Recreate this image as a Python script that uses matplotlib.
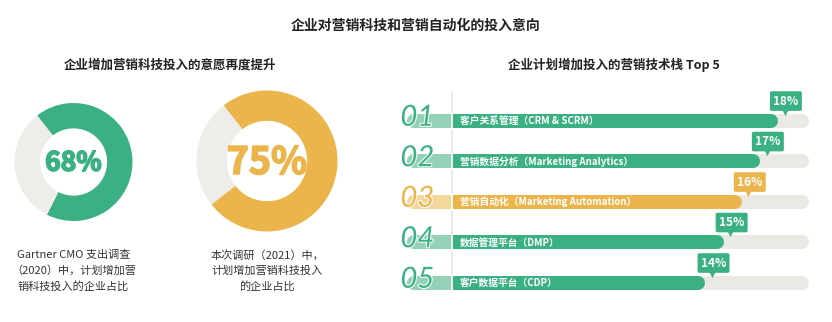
import matplotlib
matplotlib.use("Agg")
import matplotlib.pyplot as plt
import matplotlib.patheffects as pe

plt.rcParams['font.family'] = ['Noto Sans CJK SC', 'DejaVu Sans']

# data
donut_values = [68, 75]
donut_captions = ["Gartner CMO 支出调查\n（2020）中，计划增加营\n销科技投入的企业占比",
                  "本次调研（2021）中，\n计划增加营销科技投入\n的企业占比"]
tech_ranks = ["01", "02", "03", "04", "05"]
tech_names = ["客户关系管理（CRM & SCRM）", "营销数据分析（Marketing Analytics）",
              "营销自动化（Marketing Automation）", "数据管理平台（DMP）", "客户数据平台（CDP）"]
tech_values = [18, 17, 16, 15, 14]
track_max = 19.7

GREEN = "#3bb083"
YELLOW = "#ecb54c"
LIGHT_GREEN = "#93d2b7"
LIGHT_YELLOW = "#f4d79b"
TRACK = "#eae9e4"
RING_BG = "#eeede9"

W, H = 832, 322
fig = plt.figure(figsize=(W / 100, H / 100), dpi=100)


def px_axes(left, top, width, height):
    return fig.add_axes([left / W, (H - top - height) / H, width / W, height / H])


fig.text(416 / W, 1 - 26 / H, "企业对营销科技和营销自动化的投入意向", ha="center", va="center",
         fontsize=10, fontweight="bold", color="#222222")
fig.text(170 / W, 1 - 65 / H, "企业增加营销科技投入的意愿再度提升", ha="center", va="center",
         fontsize=9, fontweight="bold", color="#222222")
fig.text(614 / W, 1 - 65 / H, "企业计划增加投入的营销技术栈 Top 5", ha="center", va="center",
         fontsize=9, fontweight="bold", color="#222222")

# donuts
donut_specs = [(73.5, 162, 59, GREEN, 128, 19), (267, 161, 70.5, YELLOW, 128, 27)]
for val, cap, (cx, cy, r, col, start, fs) in zip(donut_values, donut_captions, donut_specs):
    ax = px_axes(cx - r, cy - r, 2 * r, 2 * r)
    ax.pie([val, 100 - val], colors=[col, RING_BG], startangle=start, counterclock=False,
           wedgeprops=dict(width=0.43, edgecolor="none"))
    ax.set_xlim(-1, 1)
    ax.set_ylim(-1, 1)
    ax.set_aspect("equal")
    pt = ax.text(0, -0.02, f"{val}%", ha="center", va="center", fontsize=fs,
                 fontweight="heavy", color=col)
    pt.set_path_effects([pe.withStroke(linewidth=1.2, foreground=col)])
    fig.text(cx / W, 1 - 250 / H, cap, ha="center", va="top", fontsize=8,
             color="#333333", linespacing=1.55)

# right bar panel
ax = px_axes(390, 80, 442, 230)
px_per_unit = 18.1
ax.set_xlim((390 - 452) / px_per_unit, (832 - 452) / px_per_unit)
ax.set_ylim(4.67, -1.01)
ax.axis("off")

lw = 14 * 0.72
r = 7 / px_per_unit
stub_left = -2.5

ax.plot([0, 0], [-0.72, 4.12], color="#e6e5e0", lw=1.2, zorder=1)

for i, (rank, name, v) in enumerate(zip(tech_ranks, tech_names, tech_values)):
    col = YELLOW if i == 2 else GREEN
    light = LIGHT_YELLOW if i == 2 else LIGHT_GREEN
    ax.plot([stub_left + r, track_max - r], [i, i], color=TRACK, lw=lw,
            solid_capstyle="round", zorder=2)
    ax.plot([stub_left + r, 0 - r], [i, i], color=light, lw=lw,
            solid_capstyle="round", zorder=3)
    ax.barh(i, -r, left=0, height=14 / 40.5, color=light, zorder=3)
    ax.barh(i, v - r, left=0, height=14 / 40.5, color=col, zorder=4)
    ax.plot([v - r - 0.3, v - r], [i, i], color=col, lw=lw,
            solid_capstyle="round", zorder=4)
    ax.plot([0, 0], [i - 0.19, i + 0.19], color="white", lw=1.3, zorder=5)
    ax.text(0.44, i + 0.01, name, ha="left", va="center", fontsize=7,
            fontweight="bold", color="white", zorder=6)
    t = ax.text(stub_left - 0.35, i + 0.12, rank, ha="left", va="baseline",
                fontsize=21, color=col, family=["Lato", "DejaVu Sans"],
                style="italic", fontweight="normal", zorder=6)
    t.set_path_effects([pe.withStroke(linewidth=1.5, foreground="white")])
    # callout
    ax.scatter([v + 0.38], [i - 0.23], marker="v", s=28, color=col, zorder=6,
               linewidths=0)
    ax.text(v + 0.45, i - 0.49, f"{v}%", ha="center", va="center", fontsize=8.5,
            fontweight="bold", color="white", zorder=7,
            bbox=dict(boxstyle="round,pad=0.28,rounding_size=0.15", fc=col, ec="none"))

fig.savefig("out.png", dpi=100)
